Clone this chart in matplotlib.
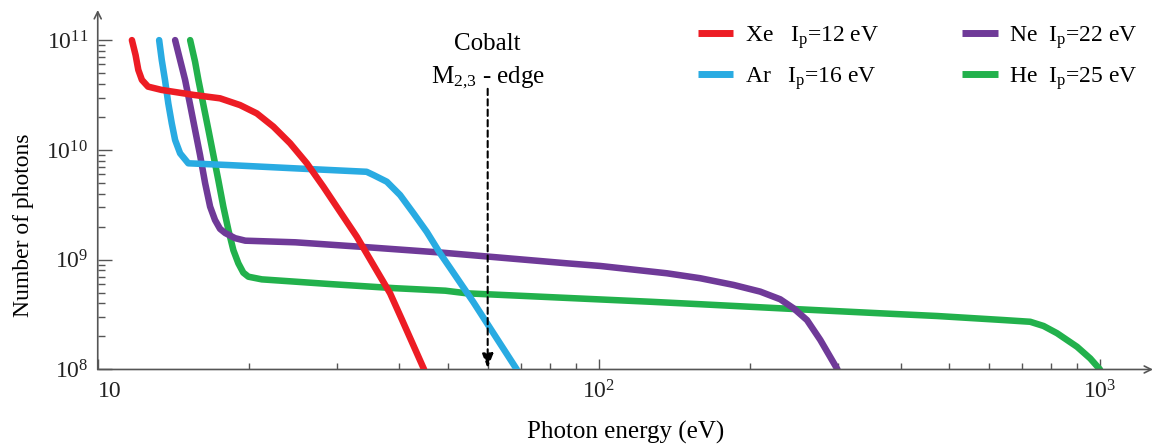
import numpy as np
import matplotlib.pyplot as plt
from matplotlib.lines import Line2D
from matplotlib.ticker import NullFormatter
from matplotlib.transforms import blended_transform_factory

plt.rcParams['font.family'] = ['Liberation Serif', 'DejaVu Serif']
plt.rcParams['mathtext.fontset'] = 'custom'
plt.rcParams['mathtext.rm'] = 'Liberation Serif'
plt.rcParams['mathtext.it'] = 'Liberation Serif:italic'
plt.rcParams['mathtext.bf'] = 'Liberation Serif:bold'

# photon spectra (eV, number of photons)
xe_E = [11.7, 11.9, 12.05, 12.25, 12.6, 13.4, 15.6, 17.54, 19.23, 20.77, 22.41, 24.2, 26.14, 28.2,
        30.44, 32.88, 35.49, 38.32, 40.5, 44.8]
xe_N = [1.0e11, 7.3e10, 5.35e10, 4.34e10, 3.77e10, 3.52e10, 3.16e10, 2.95e10, 2.56e10, 2.15e10,
        1.63e10, 1.15e10, 7.55e9, 4.62e9, 2.74e9, 1.62e9, 8.95e8, 4.94e8, 2.82e8, 1.0e8]

ar_E = [13.26, 13.42, 13.62, 13.83, 14.05, 14.27, 14.6, 15.16, 18.2, 24.8, 34.4, 35.49, 37.75,
        40.12, 42.66, 45.36, 48.23, 50.5, 56.2, 61.6, 68.6]
ar_N = [1.0e11, 6.59e10, 4.34e10, 2.65e10, 1.75e10, 1.23e10, 9.31e9, 7.55e9, 7.28e9, 6.79e9,
        6.32e9, 5.91e9, 5.13e9, 3.88e9, 2.65e9, 1.79e9, 1.14e9, 8.4e8, 4.1e8, 2.14e8, 1.0e8]

ne_E = [14.27, 14.6, 14.94, 15.29, 15.64, 16.0, 16.38, 16.76, 17.14, 17.54, 17.96, 18.8, 19.7, 24.8,
        33.6, 48.6, 86.3, 100.6, 136.7, 159.3, 185.7, 209.9, 230.1, 244.6, 260.2, 276.6, 299.4]
ne_N = [1.0e11, 6.59e10, 4.34e10, 2.57e10, 1.52e10, 9.0e9, 4.97e9, 3.04e9, 2.3e9, 1.91e9, 1.75e9,
        1.57e9, 1.49e9, 1.44e9, 1.31e9, 1.16e9, 9.27e8, 8.77e8, 7.52e8, 6.78e8, 5.89e8, 5.12e8,
        4.36e8, 3.61e8, 2.82e8, 1.86e8, 1.0e8]

he_E = [15.29, 15.64, 15.88, 16.25, 16.63, 17.01, 17.4, 17.81, 18.23, 18.65, 19.08, 19.52, 19.98,
        21.25, 28.9, 39.2, 49.4, 54.5, 126.6, 159.3, 252.3, 364.2, 472.9, 642.1, 725.8, 771.6,
        820.9, 900.0, 956.3, 1000.0]
he_N = [1.0e11, 6.35e10, 4.34e10, 2.57e10, 1.52e10, 9.0e9, 5.33e9, 3.04e9, 1.86e9, 1.22e9, 9.27e8,
        7.62e8, 7.0e8, 6.62e8, 6.01e8, 5.5e8, 5.22e8, 4.94e8, 4.14e8, 3.93e8, 3.53e8, 3.25e8,
        3.07e8, 2.82e8, 2.72e8, 2.49e8, 2.14e8, 1.61e8, 1.26e8, 1.0e8]

labels = [r'Xe   $\mathrm{I_p}$=12 eV', r'Ar   $\mathrm{I_p}$=16 eV',
          r'Ne  $\mathrm{I_p}$=22 eV', r'He  $\mathrm{I_p}$=25 eV']
colors = ['#ed1c24', '#29abe2', '#6f3a98', '#22b14c']

EDGE_E = 60.0      # cobalt M2,3 edge
EDGE_TOP = 3.6e10

fig = plt.figure(figsize=(11.58, 4.45), dpi=100)
ax = fig.add_axes([0.0844, 0.1697, 0.9113, 0.8078])
ax.set_xscale('log')
ax.set_yscale('log')
ax.set_xlim(10, 1276)
ax.set_ylim(1e8, 1.88e11)

series = [(xe_E, xe_N), (ar_E, ar_N), (ne_E, ne_N), (he_E, he_N)]
zs = [5, 4, 3, 2]
for (e, n), c, z in zip(series, colors, zs):
    ax.plot(e, n, color=c, lw=4.7, solid_capstyle='round', solid_joinstyle='round', zorder=z)

# dashed arrow for the cobalt edge
ax.annotate('', xy=(EDGE_E, 1.03e8), xytext=(EDGE_E, EDGE_TOP),
            arrowprops=dict(arrowstyle='-|>,head_width=0.33,head_length=0.85', color='k',
                            lw=1.5, linestyle=(0, (3, 2)), shrinkA=0, shrinkB=0), zorder=6)
trans = blended_transform_factory(ax.transData, ax.transAxes)
ax.text(EDGE_E, 0.905, 'Cobalt', transform=trans, ha='center', va='center', fontsize=18)
ax.text(EDGE_E, 0.812, r'$\mathrm{M_{2{,}3}}$ - edge', transform=trans, ha='center', va='center',
        fontsize=18)

# axes with arrow heads
for s in ax.spines.values():
    s.set_visible(False)
axc = '#555555'
ax.annotate('', xy=(1, 0), xytext=(0, 0), xycoords='axes fraction',
            arrowprops=dict(arrowstyle='->,head_width=0.25,head_length=0.5', color=axc, lw=1.2,
                            shrinkA=0, shrinkB=0))
ax.annotate('', xy=(0, 1), xytext=(0, 0), xycoords='axes fraction',
            arrowprops=dict(arrowstyle='->,head_width=0.25,head_length=0.5', color=axc, lw=1.2,
                            shrinkA=0, shrinkB=0))

ax.set_xticks([10, 100, 1000], labels=['10', r'$\mathrm{10^{2}}$', r'$\mathrm{10^{3}}$'])
ax.set_yticks([1e8, 1e9, 1e10, 1e11],
              labels=[r'$\mathrm{10^{8}}$', r'$\mathrm{10^{9}}$', r'$\mathrm{10^{10}}$', r'$\mathrm{10^{11}}$'])
ax.get_xticklabels()[0].set_horizontalalignment('left')
ax.xaxis.set_minor_formatter(NullFormatter())
ax.yaxis.set_minor_formatter(NullFormatter())
ax.tick_params(axis='both', which='both', direction='in', color=axc, width=1, labelsize=17,
               labelcolor='#222222')
ax.tick_params(axis='y', which='major', length=10, pad=7)
ax.tick_params(axis='y', which='minor', length=5)
ax.tick_params(axis='x', which='major', length=7, pad=8)
ax.tick_params(axis='x', which='minor', length=4)
ax.tick_params(top=False, right=False, which='both')

ax.set_xlabel('Photon energy (eV)', fontsize=18, labelpad=12)
ax.set_ylabel('Number of photons', fontsize=17)
ax.yaxis.set_label_coords(-0.060, 0.40)

handles = [Line2D([], [], color=c, lw=5, solid_capstyle='butt') for c in colors]
ax.legend(handles, labels, ncol=2, loc='upper left', bbox_to_anchor=(698 / 1158, 0.946),
          bbox_transform=fig.transFigure, frameon=False, fontsize=17, handlelength=1.5,
          handletextpad=0.5, columnspacing=3.5, labelspacing=0.6, borderpad=0, borderaxespad=0)

fig.savefig('out.png', dpi=100)
